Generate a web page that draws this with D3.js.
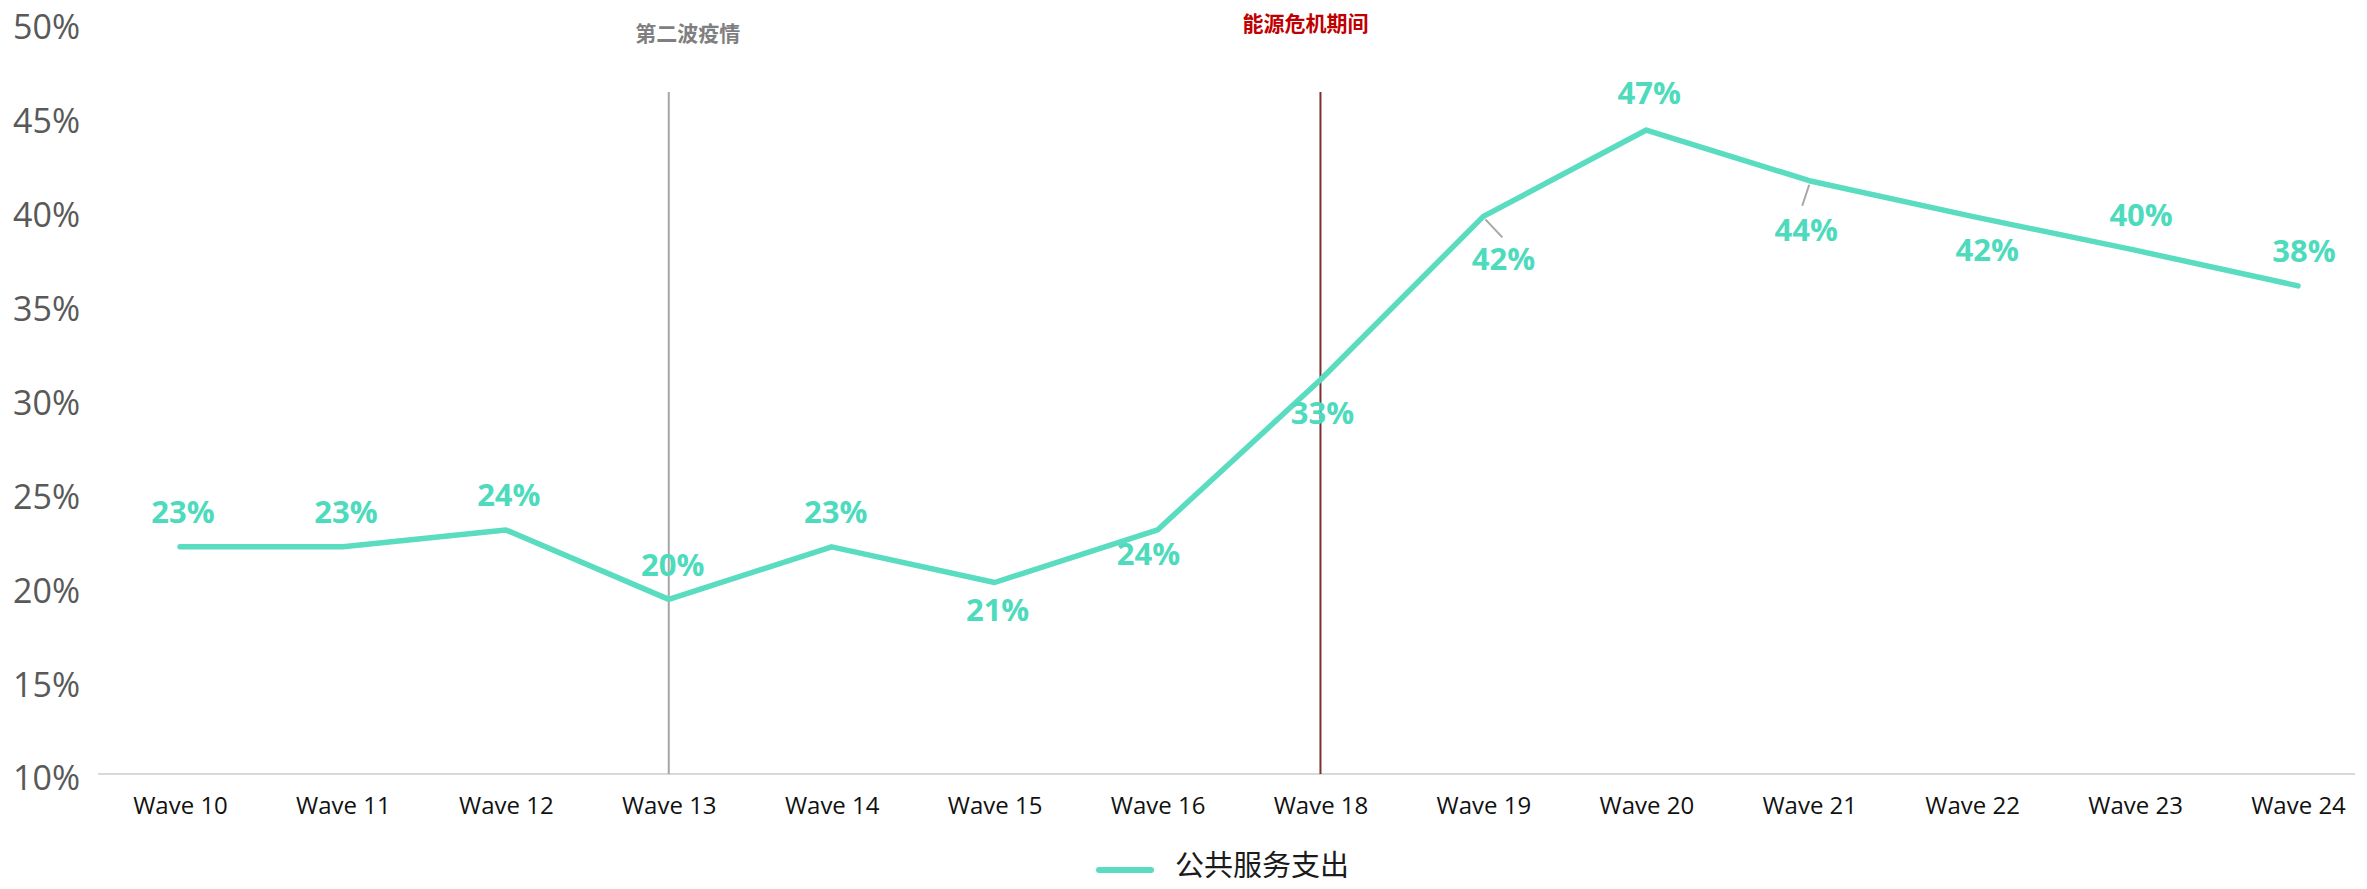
<!DOCTYPE html>
<html>
<head>
<meta charset="utf-8">
<script src="https://cdn.jsdelivr.net/npm/d3@7"></script>
<style>
  html, body { margin: 0; padding: 0; background: #ffffff; }
  svg { display: block; }
</style>
</head>
<body>
<svg id="chart" width="2367" height="889"></svg>
<script>
// ---- data ----
const categories = ["Wave 10","Wave 11","Wave 12","Wave 13","Wave 14","Wave 15","Wave 16","Wave 18","Wave 19","Wave 20","Wave 21","Wave 22","Wave 23","Wave 24"];
const seriesName = "公共服务支出";
const lineValues = [22.1, 22.1, 23.0, 19.3, 22.1, 20.2, 23.0, 31.0, 39.7, 44.3, 41.6, 39.7, 37.9, 36.0];
const labelTexts = ["23%","23%","24%","20%","23%","21%","24%","33%","42%","47%","44%","42%","40%","38%"];
const yTicks = [10, 15, 20, 25, 30, 35, 40, 45, 50];
const markers = [
  { category: "Wave 13", text: "第二波疫情" },
  { category: "Wave 18", text: "能源危机期间" }
];

// ---- layout (not data) ----
const W = 2367, H = 889;
const labelOffset = [[3,-36],[3,-36],[3,-36],[4,-35],[4,-36],[3,27],[-9,23],[2,32],[20,42],[3,-38],[-3,48],[15,33],[6,-36],[6,-36]];
const leaders = { 8: [[2,3],[19,21]], 10: [[0,4],[-7,25]] };
const markerStyle = [
  { line: "#a6a6a6", text: "#7f7f7f", dx: 19, ty: 32 },
  { line: "#7b2f2f", text: "#c00000", dx: -15, ty: 22 }
];
const lineColor = "#5adcc0";
const labelColor = "#4edbbd";

const svg = d3.select("#chart");

const x = d3.scalePoint().domain(categories).range([180, 2298]);
const y = d3.scaleLinear().domain([10, 50]).range([774, 23]);

// y axis
const yAxis = d3.axisLeft(y).tickValues(yTicks).tickFormat(d => d + "%").tickSize(0).tickPadding(0);
const gy = svg.append("g").attr("transform", "translate(80,0)").call(yAxis);
gy.select(".domain").remove();
gy.selectAll("text")
  .attr("fill", "#595959")
  .attr("font-family", "'Open Sans', 'Noto Sans', sans-serif")
  .attr("font-size", 34)
  .attr("dy", "0.38em")
  .attr("transform", "translate(0,3)");

// x axis baseline
svg.append("line")
  .attr("x1", 98).attr("x2", 2355)
  .attr("y1", y(10)).attr("y2", y(10))
  .attr("stroke", "#d9d9d9").attr("stroke-width", 2);

const xAxis = d3.axisBottom(x).tickSize(0).tickPadding(0);
const gx = svg.append("g").attr("transform", `translate(0,${y(10)})`).call(xAxis);
gx.select(".domain").remove();
gx.selectAll("text")
  .attr("fill", "#111111")
  .attr("font-family", "'Open Sans', 'Noto Sans', sans-serif")
  .attr("font-size", 24)
  .attr("dy", "0")
  .attr("y", 40);

// marker lines and texts
markers.forEach((m, i) => {
  const s = markerStyle[i];
  const mx = x(m.category);
  svg.append("line")
    .attr("x1", mx).attr("x2", mx)
    .attr("y1", 92).attr("y2", y(10))
    .attr("stroke", s.line).attr("stroke-width", 2);
  svg.append("text")
    .attr("x", mx + s.dx).attr("y", s.ty)
    .attr("text-anchor", "middle")
    .attr("dominant-baseline", "central")
    .attr("font-family", "'Noto Sans CJK SC', sans-serif")
    .attr("font-weight", 700)
    .attr("font-size", 21)
    .attr("fill", s.text)
    .text(m.text);
});

// the series line
const pts = categories.map((c, i) => ({ c, v: lineValues[i], t: labelTexts[i], i }));
const line = d3.line().x(d => x(d.c)).y(d => y(d.v));
svg.append("path")
  .datum(pts)
  .attr("d", line)
  .attr("fill", "none")
  .attr("stroke", lineColor)
  .attr("stroke-width", 5.5)
  .attr("stroke-linejoin", "round")
  .attr("stroke-linecap", "round");

// leader lines
Object.keys(leaders).forEach(k => {
  const d = pts[+k];
  const [[ax, ay], [bx, by]] = leaders[k];
  svg.append("line")
    .attr("x1", x(d.c) + ax).attr("y1", y(d.v) + ay)
    .attr("x2", x(d.c) + bx).attr("y2", y(d.v) + by)
    .attr("stroke", "#a6a6a6").attr("stroke-width", 2);
});

// data labels
svg.append("g").selectAll("text")
  .data(pts)
  .join("text")
  .attr("x", d => x(d.c) + labelOffset[d.i][0])
  .attr("y", d => y(d.v) + labelOffset[d.i][1])
  .attr("text-anchor", "middle")
  .attr("dominant-baseline", "central")
  .attr("font-family", "'Open Sans', 'Noto Sans', sans-serif")
  .attr("font-weight", 700)
  .attr("font-size", 31)
  .attr("fill", labelColor)
  .text(d => d.t);

// legend
const lg = svg.append("g");
lg.append("line")
  .attr("x1", 1099).attr("x2", 1151)
  .attr("y1", 870).attr("y2", 870)
  .attr("stroke", lineColor).attr("stroke-width", 6)
  .attr("stroke-linecap", "round");
lg.append("text")
  .attr("x", 1175).attr("y", 876)
  .attr("font-family", "'Noto Sans CJK SC', sans-serif")
  .attr("font-size", 29)
  .attr("fill", "#1a1a1a")
  .text(seriesName);
</script>
</body>
</html>
